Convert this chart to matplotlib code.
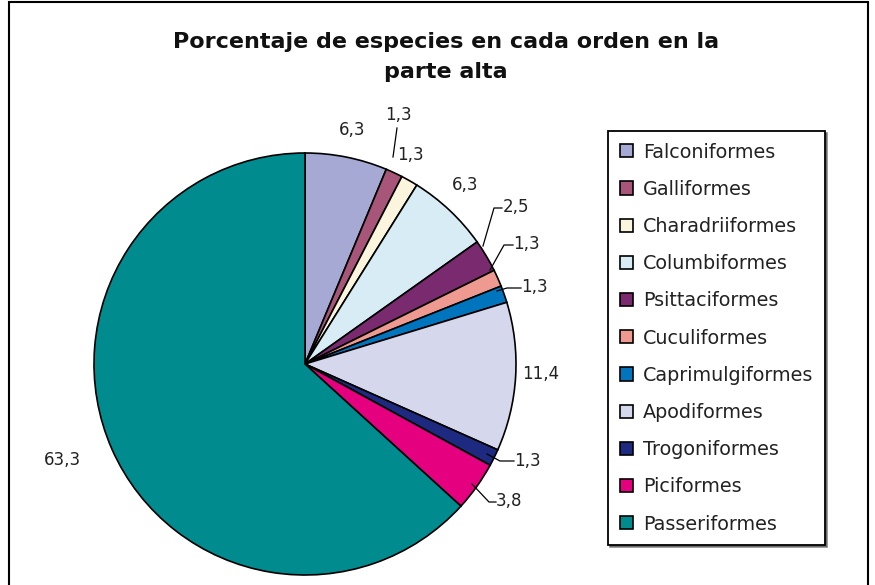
import matplotlib
matplotlib.use('Agg')
from matplotlib import pyplot as plt
from matplotlib.patches import Rectangle, Patch
import numpy as np

###data
orders = ['Falconiformes', 'Galliformes', 'Charadriiformes', 'Columbiformes',
          'Psittaciformes', 'Cuculiformes', 'Caprimulgiformes', 'Apodiformes',
          'Trogoniformes', 'Piciformes', 'Passeriformes']
percent = [6.3, 1.3, 1.3, 6.3, 2.5, 1.3, 1.3, 11.4, 1.3, 3.8, 63.3]
colors = ['#A6A9D4', '#A8557A', '#FAF5DC', '#D8ECF5', '#7A2A6E', '#EE9A90',
          '#0075BE', '#D5D8EC', '#1E2A80', '#E4007E', '#008B8F']
title = 'Porcentaje de especies en cada orden en la\nparte alta'

W, H = 875, 585
plt.rcParams['font.family'] = ['DejaVu Sans']
fig = plt.figure(figsize=(W/100, H/100), dpi=100)
ax = fig.add_axes([0, 0, 1, 1])

def py(y):
    # pixel row (from top) -> axis y
    return H - y

cx, cy, R = 305, 364, 211
wedges, _ = ax.pie(percent, colors=colors, startangle=90, counterclock=False,
                   center=(cx, py(cy)), radius=R, frame=True,
                   wedgeprops=dict(edgecolor='black', linewidth=1.2))
ax.set_xlim(0, W)
ax.set_ylim(0, H)
ax.set_aspect('equal')
ax.axis('off')

###label positions (pixels) and leader lines; None = no leader
lab_pos = [(352, 130), (398, 115), (410, 155), (465, 185), (503, 207),
           (513, 244), (521, 287), (541, 374), (514, 461), (496, 501), (62, 460)]
leaders = [None,
           [(393, 157), (397, 128)],
           None, None,
           [(483, 246), (494, 208), (502, 208)],
           [(490, 270), (504, 245), (513, 245)],
           [(497, 291), (507, 288), (521, 288)],
           None,
           [(487, 454), (500, 461), (514, 461)],
           [(472, 484), (489, 502), (496, 502)],
           None]

for v, (lx, ly), ld in zip(percent, lab_pos, leaders):
    txt = ('%.1f' % v).replace('.', ',')
    ha = 'left' if ld is not None and len(ld) > 2 else 'center'
    ax.text(lx, py(ly), txt, fontsize=12, ha=ha, va='center', color='#222222')
    if ld is not None:
        ax.plot([p[0] for p in ld], [py(p[1]) for p in ld], color='black', lw=0.9)

fig.text(446/W, 1 - 57/H, title, ha='center', va='center', fontsize=16,
         fontweight='bold', linespacing=1.6, color='#111111')

handles = [Patch(facecolor=c, edgecolor='black', linewidth=1.2) for c in colors]
leg = ax.legend(handles, orders, loc='upper left',
                bbox_to_anchor=(608/W, 1 - 131/H), bbox_transform=fig.transFigure,
                fontsize=13.8, frameon=True, fancybox=False, labelspacing=0.95,
                handlelength=0.68, handleheight=0.68, handletextpad=0.55,
                borderpad=0.6, borderaxespad=0, labelcolor='#222222',
                shadow={'ox': 1.2, 'oy': -1.2, 'alpha': 0.6})
leg.get_frame().set_edgecolor('black')
leg.get_frame().set_linewidth(1.3)

fig.patches.append(Rectangle((9/W, -0.05), (868-9)/W, 1.05 - 2/H,
                             transform=fig.transFigure, fill=False,
                             edgecolor='black', linewidth=1.5))

plt.savefig('out.png', dpi=100)
plt.close()
